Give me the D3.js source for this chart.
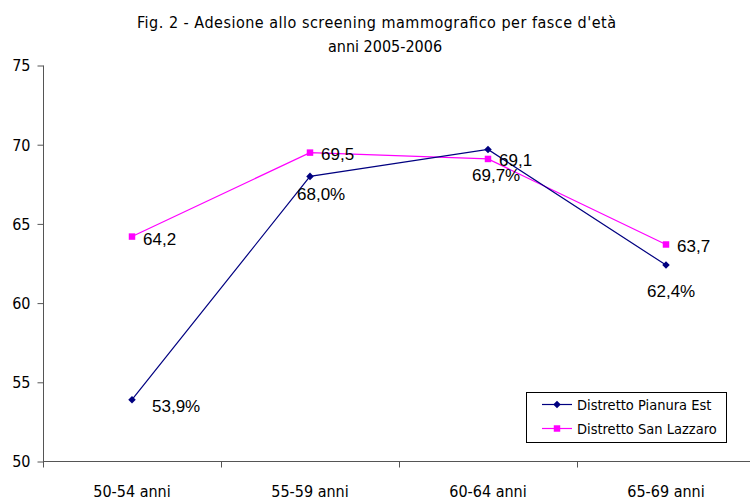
<!DOCTYPE html>
<html>
<head>
<meta charset="utf-8">
<script src="https://cdn.jsdelivr.net/npm/d3@7"></script>
<style>
  html, body { margin: 0; padding: 0; background: #fff; }
  svg { display: block; }
  .tah { font-family: "DejaVu Sans Condensed", "DejaVu Sans", sans-serif; font-stretch: condensed; }
  .ari { font-family: "Liberation Sans", Arial, sans-serif; }
</style>
</head>
<body>
<svg id="chart" width="750" height="500"></svg>
<script>
// Age bands and participation rates (%) per district
const categories = ["50-54 anni", "55-59 anni", "60-64 anni", "65-69 anni"];
const pianuraEst = [53.9, 68.0, 69.7, 62.4];
const sanLazzaro = [64.2, 69.5, 69.1, 63.7];
const seriesNames = ["Distretto Pianura Est", "Distretto San Lazzaro"];
const yTicks = [50, 55, 60, 65, 70, 75];
const titleLines = ["Fig. 2 - Adesione allo screening mammografico per fasce d'età", "anni 2005-2006"];

// label placement relative to each marker
const pianuraLabelOffsets = [[20, 12], [-13, 24], [-16, 32], [-19, 32]];
const lazzaroLabelOffsets = [[11, 8], [11, 7], [11, 7], [11, 8]];

const navy = "#000080", magenta = "#FF00FF", axisColor = "#555";

const svg = d3.select("#chart");

const x = d3.scaleBand().domain(categories).range([43, 755]);
const y = d3.scaleLinear().domain([50, 75]).range([461.5, 65.5]);
const cx = c => x(c) + x.bandwidth() / 2;

// title
svg.append("text").attr("class", "tah").attr("x", 137).attr("y", 27.5)
  .attr("textLength", 479).attr("lengthAdjust", "spacing")
  .attr("font-size", 16).attr("fill", "#000").text(titleLines[0]);
svg.append("text").attr("class", "tah").attr("x", 385).attr("y", 51.5)
  .attr("text-anchor", "middle").attr("font-size", 16).attr("fill", "#000").text(titleLines[1]);

// y axis
const yAxis = d3.axisLeft(y).tickValues(yTicks).tickSize(6).tickPadding(7).tickFormat(d3.format("d"));
const gy = svg.append("g").attr("transform", "translate(43.5,0)").call(yAxis);
gy.select(".domain").attr("stroke", axisColor).attr("d", `M0,${y(75)}V${y(50) + 6}`);
gy.selectAll(".tick line").attr("stroke", axisColor);
gy.selectAll(".tick text").attr("class", "tah").attr("font-size", 16).attr("fill", "#000").attr("dy", "0.34em");

// x axis with ticks between categories
const gx = svg.append("g").attr("transform", `translate(0,${y(50)})`);
gx.append("line").attr("x1", 43).attr("x2", 755).attr("y1", 0).attr("y2", 0).attr("stroke", axisColor);
gx.selectAll(".sep").data(categories.slice(1)).join("line")
  .attr("x1", d => Math.round(x(d)) + 0.5).attr("x2", d => Math.round(x(d)) + 0.5)
  .attr("y1", 0).attr("y2", 6).attr("stroke", axisColor);
gx.selectAll(".lab").data(categories).join("text").attr("class", "tah")
  .attr("x", d => cx(d)).attr("y", 35.5).attr("text-anchor", "middle")
  .attr("font-size", 16).attr("fill", "#000").text(d => d);

const line = d3.line().x((d, i) => cx(categories[i])).y(d => y(d));

// series lines
svg.append("path").datum(sanLazzaro).attr("d", line).attr("fill", "none").attr("stroke", magenta).attr("stroke-width", 1.2);
svg.append("path").datum(pianuraEst).attr("d", line).attr("fill", "none").attr("stroke", navy).attr("stroke-width", 1.2);

// markers
const diamond = d3.symbol().type(d3.symbolDiamond2).size(36);
const square = d3.symbol().type(d3.symbolSquare).size(42);
svg.selectAll(".mS").data(sanLazzaro).join("path")
  .attr("d", square).attr("transform", (d, i) => `translate(${cx(categories[i])},${y(d)})`).attr("fill", magenta);
svg.selectAll(".mP").data(pianuraEst).join("path")
  .attr("d", diamond).attr("transform", (d, i) => `translate(${cx(categories[i])},${y(d)})`).attr("fill", navy);

// value labels
const fmt1 = v => v.toFixed(1).replace(".", ",");
svg.selectAll(".lS").data(sanLazzaro).join("text").attr("class", "ari")
  .attr("x", (d, i) => cx(categories[i]) + lazzaroLabelOffsets[i][0])
  .attr("y", (d, i) => y(d) + lazzaroLabelOffsets[i][1])
  .attr("font-size", 17).attr("fill", "#000").text(d => fmt1(d));
svg.selectAll(".lP").data(pianuraEst).join("text").attr("class", "ari")
  .attr("x", (d, i) => cx(categories[i]) + pianuraLabelOffsets[i][0])
  .attr("y", (d, i) => y(d) + pianuraLabelOffsets[i][1])
  .attr("font-size", 17).attr("fill", "#000").text(d => fmt1(d) + "%");

// legend
const lg = svg.append("g");
lg.append("rect").attr("x", 526.5).attr("y", 392.5).attr("width", 200).attr("height", 50)
  .attr("fill", "#fff").attr("stroke", "#000").attr("stroke-width", 1);
const legendItems = [
  { name: seriesNames[0], color: navy, sym: diamond, yy: 404.5 },
  { name: seriesNames[1], color: magenta, sym: square, yy: 428.5 }
];
legendItems.forEach(it => {
  lg.append("line").attr("x1", 542).attr("x2", 572).attr("y1", it.yy).attr("y2", it.yy)
    .attr("stroke", it.color).attr("stroke-width", 1.2);
  lg.append("path").attr("d", it.sym).attr("transform", `translate(557,${it.yy})`).attr("fill", it.color);
  lg.append("text").attr("class", "tah").attr("x", 577).attr("y", it.yy).attr("dy", "0.35em")
    .attr("font-size", 14.5).attr("fill", "#000").text(it.name);
});
</script>
</body>
</html>
